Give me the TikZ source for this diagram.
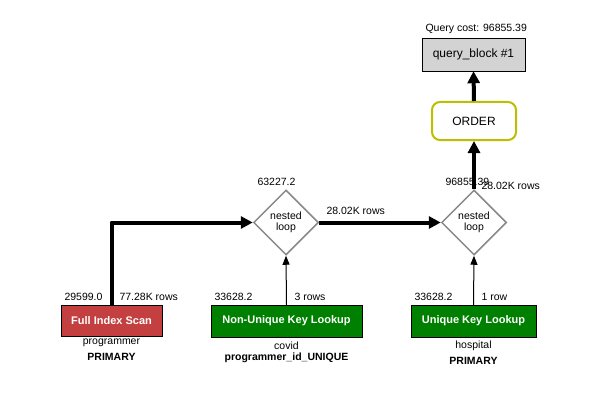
\documentclass[tikz,border=0pt]{standalone}
\usepackage{fontspec}
\setmainfont{Liberation Sans}
\usetikzlibrary{shapes.geometric,arrows.meta}
\definecolor{scanred}{RGB}{196,64,64}
\definecolor{lookupgreen}{RGB}{0,128,0}
\definecolor{orderyellow}{RGB}{190,190,0}
\definecolor{blockgray}{RGB}{211,211,211}
\definecolor{loopgray}{RGB}{136,136,136}
\tikzset{
	small/.style={font=\fontsize{10.5}{12}\selectfont},
	access/.style={draw=black, text=white, font=\fontsize{11}{13}\selectfont\bfseries, inner sep=0pt},
	nestedloop/.style={diamond, draw=loopgray, line width=1.5pt, minimum width=65pt, minimum height=65pt, inner sep=0pt, align=center, font=\fontsize{10.5}{11}\selectfont},
	flow/.style={line width=4pt, line join=round, -{Triangle[length=12pt,width=12pt]}},
	feed/.style={line width=1pt, -{Triangle[length=9pt,width=7pt]}},
}
\begin{document}
\begin{tikzpicture}[x=1pt,y=-1pt]
			\useasboundingbox (0,0) rectangle (611,412);
			% query block and order
			\node[draw=black, fill=blockgray, minimum width=103pt, minimum height=33pt, font=\fontsize{12}{14}\selectfont] (block) at (473.5,54.5) {query\_block \#1};
			\node[small, anchor=west] (querycost) at (422,29) {Query cost: 96855.39};
			\node[draw=orderyellow, line width=2pt, rounded corners=8pt, minimum width=84pt, minimum height=38pt, font=\fontsize{12}{14}\selectfont] (order) at (474,121) {ORDER};
			% joins
			\node[nestedloop] (loopA) at (286,222.5) {nested\\loop};
			\node[nestedloop] (loopB) at (474,222.5) {nested\\loop};
			\node[small, anchor=west] (loopAcost) at (254,182) {63227.2};
			\node[small, anchor=west] (loopBcost) at (442,182) {96855.39};
			\node[small, anchor=west] (loopBrows) at (478,186) {28.02K rows};
			\node[small, anchor=west] (loopArows) at (323,211) {28.02K rows};
			% tables
			\node[access, fill=scanred, minimum width=101pt, minimum height=31pt] (scan) at (111.5,320.5) {Full Index Scan};
			\node[access, fill=lookupgreen, minimum width=151pt, minimum height=32pt] (nonunique) at (286.5,321) {Non-Unique Key Lookup};
			\node[access, fill=lookupgreen, minimum width=125pt, minimum height=32pt] (unique) at (473.5,321) {Unique Key Lookup};
			\node[small, anchor=west] (scancost) at (61,297) {29599.0};
			\node[small, anchor=west] (scanrows) at (116,297) {77.28K rows};
			\node[small, anchor=west] (nonuniquecost) at (211,297) {33628.2};
			\node[small, anchor=west] (nonuniquerows) at (291,297) {3 rows};
			\node[small, anchor=west] (uniquecost) at (411,297) {33628.2};
			\node[small, anchor=west] (uniquerows) at (478,297) {1 row};
			\node[small] (scantable) at (111.5,343) {programmer};
			\node[small, font=\fontsize{10.5}{12}\selectfont\bfseries] (scankey) at (111.5,357) {PRIMARY};
			\node[small] (nonuniquetable) at (286.5,346) {covid};
			\node[small, font=\fontsize{10.5}{12}\selectfont\bfseries] (nonuniquekey) at (286.5,358) {programmer\_id\_UNIQUE};
			\node[small] (uniquetable) at (473.5,346) {hospital};
			\node[small, font=\fontsize{10.5}{12}\selectfont\bfseries] (uniquekey) at (473.5,361) {PRIMARY};
			% connectors
			\draw[flow] (scan.north) |- (loopA.west);
			\draw[feed] (nonunique.north) -- (loopA.south);
			\draw[flow] (loopA.east) -- (loopB.west);
			\draw[feed] (unique.north) -- (loopB.south);
			\draw[flow] (loopB.north) -- (order.south);
			\draw[flow] (order.north) -- (block.south);
		\end{tikzpicture}
\end{document}
